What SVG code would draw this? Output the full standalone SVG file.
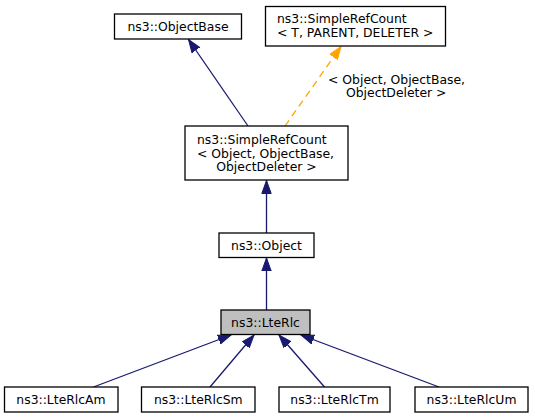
<svg xmlns="http://www.w3.org/2000/svg" width="535" height="419" viewBox="0 0 535 419">
<style>
  .box { fill: #ffffff; stroke: #000000; stroke-width: 1.3; }
  .sel { fill: #bfbfbf; stroke: #000000; stroke-width: 1.3; }
  text { font-family: "DejaVu Sans", "Liberation Sans", sans-serif; font-size: 12.4px; fill: #000000; }
  .c { text-anchor: middle; }
  .edge { fill: none; stroke: #191970; stroke-width: 1.3; }
  .tmpl { fill: none; stroke: #ffa500; stroke-width: 1.3; stroke-dasharray: 7,5; }
</style>
<defs>
  <marker id="ah" markerUnits="userSpaceOnUse" markerWidth="14" markerHeight="12" refX="13" refY="6" orient="auto">
    <path d="M0,1.3 L13,6 L0,10.7 z" fill="#191970" stroke="#191970" stroke-width="1" stroke-dasharray="none"/>
  </marker>
  <marker id="ahO" markerUnits="userSpaceOnUse" markerWidth="14" markerHeight="12" refX="13" refY="6" orient="auto">
    <path d="M0,1.3 L13,6 L0,10.7 z" fill="#ffa500" stroke="#ffa500" stroke-width="1" stroke-dasharray="none"/>
  </marker>
</defs>
<g id="connectors">
  <path class="edge" d="M248,126 L188.5,39.5" marker-end="url(#ah)"/>
  <path class="tmpl" d="M285,126 L341,46.5" marker-end="url(#ahO)"/>
  <path class="edge" d="M266.5,233 L266.5,180.5" marker-end="url(#ah)"/>
  <path class="edge" d="M266.5,310 L266.5,258" marker-end="url(#ah)"/>
  <path class="edge" d="M93.5,387 L231,335" marker-end="url(#ah)"/>
  <path class="edge" d="M210,387 L254,335" marker-end="url(#ah)"/>
  <path class="edge" d="M324.5,387 L279,335" marker-end="url(#ah)"/>
  <path class="edge" d="M439,387 L301,335" marker-end="url(#ah)"/>
  <text x="328" y="83.5">&lt; Object, ObjectBase,</text>
  <text x="346" y="97">ObjectDeleter &gt;</text>
</g>
<g id="node-objectbase">
  <rect class="box" x="114.5" y="14" width="127" height="25"/>
  <text class="c" x="178" y="31">ns3::ObjectBase</text>
</g>
<g id="node-simplerefcount-tpl">
  <rect class="box" x="265.5" y="6.5" width="180" height="39.5"/>
  <text x="277" y="23">ns3::SimpleRefCount</text>
  <text x="277" y="37">&lt; T, PARENT, DELETER &gt;</text>
</g>
<g id="node-simplerefcount-obj">
  <rect class="box" x="185" y="126" width="163" height="54"/>
  <text x="197" y="144">ns3::SimpleRefCount</text>
  <text x="197" y="157.5">&lt; Object, ObjectBase,</text>
  <text class="c" x="266.5" y="171">ObjectDeleter &gt;</text>
</g>
<g id="node-object">
  <rect class="box" x="219" y="233" width="95" height="24.5"/>
  <text class="c" x="266.5" y="249.5">ns3::Object</text>
</g>
<g id="node-ltrlc">
  <rect class="sel" x="221" y="310" width="89" height="24.5"/>
  <text class="c" x="265.5" y="326.5">ns3::LteRlc</text>
</g>
<g id="node-am">
  <rect class="box" x="4.5" y="387" width="113.5" height="25"/>
  <text class="c" x="61" y="404">ns3::LteRlcAm</text>
</g>
<g id="node-sm">
  <rect class="box" x="141.5" y="387" width="113.5" height="25"/>
  <text class="c" x="198.3" y="404">ns3::LteRlcSm</text>
</g>
<g id="node-tm">
  <rect class="box" x="279" y="387" width="111" height="25"/>
  <text class="c" x="334.5" y="404">ns3::LteRlcTm</text>
</g>
<g id="node-um">
  <rect class="box" x="415" y="387" width="113" height="25"/>
  <text class="c" x="471.5" y="404">ns3::LteRlcUm</text>
</g>
</svg>
